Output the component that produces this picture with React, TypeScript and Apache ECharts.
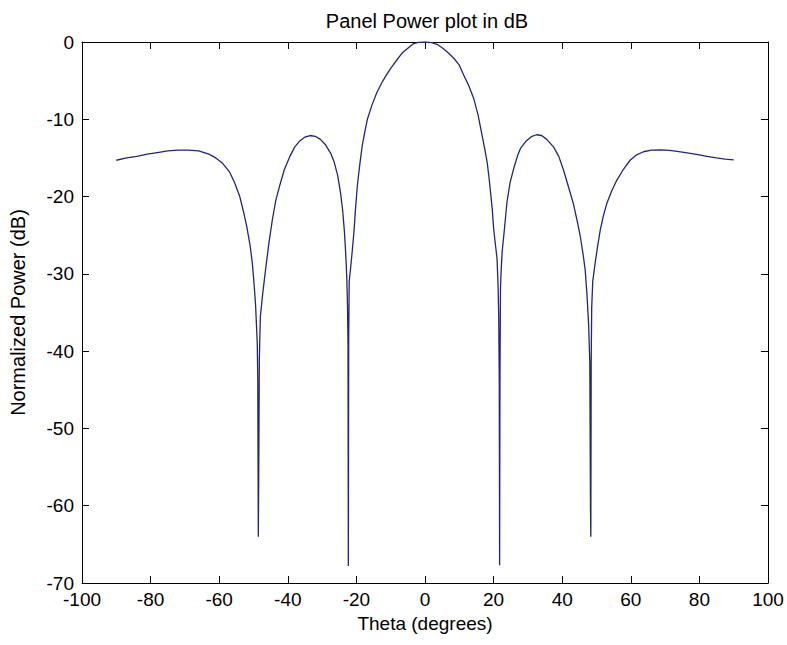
import React, { useEffect, useRef } from "react";
import * as echarts from "echarts";

const titleText = "Panel Power plot in dB";
const xAxisTitle = "Theta (degrees)";
const yAxisTitle = "Normalized Power (dB)";

const thetaDeg: number[] = [
  -90, -87, -84, -81, -78, -75, -72, -69, -66, -63, -61, -59, -57, -55.5, -54, -53, -52, -51, -50.3, -49.8,
  -49.4, -49.1, -48.9, -48.75, -48.6, -48.5, -48.3, -48.0, -47.3, -46.5, -45.5, -44.5, -43.5, -42.5, -41, -39.5,
  -38, -36.5, -35, -33.5, -32, -30.5, -29, -27.5, -26.5, -25.5, -24.6, -24, -23.5, -23.1, -22.8, -22.6,
  -22.45, -22.35, -22.25, -22.1, -21.7, -21.2, -20.7, -20.2, -19.7, -19, -18.3, -17.5, -16.8, -15.5, -14,
  -12.5, -11, -10, -8, -6.5, -5, -3.5, -2, 0,
  2, 3.5, 5, 6.5, 8.4, 10, 11.3, 12.8, 14.2, 15.5, 16.6, 17.4, 18.1, 18.6, 19.1, 19.6, 20.0, 20.5, 21.0, 21.3,
  21.5, 21.65, 21.75, 21.85, 22.0, 22.2, 22.5, 23.2, 23.9, 24.8, 25.9, 27, 27.8, 29.5, 31, 32.5, 34, 35.5,
  37.5, 39, 40.4, 41.8, 43.3, 44.4, 45.3, 46.1, 46.7, 47.2, 47.7, 48.05, 48.25, 48.35, 48.45, 48.6, 48.9,
  49.6, 50.3, 51.1, 52, 53, 54.4, 55.9, 57.8, 59.8, 61.7, 63.7, 66, 68.6, 70.5, 72.4, 75, 77.3, 80, 82.2,
  85, 87.5, 90,
];

const powerDb: number[] = [
  -15.3, -15.0, -14.8, -14.5, -14.3, -14.1, -14.0, -14.0, -14.1, -14.5, -15.0, -15.7, -16.8, -18.2, -20.0,
  -21.8, -23.8, -26.3, -28.8, -31.5, -34.0, -37.0, -39.0, -44.0, -64.0, -57.7, -41.0, -35.5, -32.5, -29.5,
  -26.0, -23.0, -20.5, -18.8, -16.5, -14.9, -13.6, -12.8, -12.3, -12.1, -12.2, -12.6, -13.3, -14.4, -15.5,
  -17.2, -19.6, -21.8, -24.5, -27.5, -30.5, -34.0, -39.0, -67.8, -38.5, -31.0, -29.3, -27.0, -24.5, -21.2,
  -18.5, -15.8, -13.4, -11.5, -10.0, -8.2, -6.5, -5.2, -4.1, -3.4, -2.2, -1.35, -0.8, -0.25, -0.06, 0,
  -0.08, -0.3, -0.75, -1.3, -2.1, -3.0, -4.3, -5.7, -7.3, -9.5, -12.0, -13.8, -15.5, -17.3, -19.4, -21.6,
  -24.1, -26.1, -28.0, -31.5, -35.7, -44.0, -67.7, -44.0, -32.0, -29.5, -27.1, -24.0, -20.7, -18.2, -16.3,
  -14.7, -13.8, -12.8, -12.25, -12.0, -12.1, -12.6, -13.6, -14.8, -16.6, -18.7, -21.0, -23.2, -25.2, -27.5,
  -29.5, -32.5, -36.5, -41.5, -60.5, -64.0, -41.5, -34.4, -31.0, -28.6, -26.5, -24.3, -22.5, -20.9, -19.3,
  -17.9, -16.5, -15.3, -14.6, -14.2, -14.0, -13.95, -14.0, -14.1, -14.25, -14.4, -14.6, -14.8, -15.0,
  -15.15, -15.25,
];

const xTicks = { min: -100, max: 100, interval: 20 };
const yTicks = { min: -70, max: 0, interval: 10 };

export default function App() {
  const ref = useRef<HTMLDivElement>(null);
  useEffect(() => {
    if (!ref.current) return;
    const chart = echarts.init(ref.current, null, { renderer: "svg" });
    const font = "Liberation Sans, Arial, Helvetica, sans-serif";
    const axisCommon = {
      type: "value" as const,
      splitLine: { show: false },
      axisLine: { show: true, onZero: false, lineStyle: { color: "#000", width: 1 } },
      axisTick: { show: true, inside: true, length: 7, lineStyle: { color: "#000", width: 1 } },
    };
    chart.setOption({
      animation: false,
      backgroundColor: "#fff",
      title: {
        text: titleText,
        left: 422,
        top: 6,
        textAlign: "center",
        textStyle: { fontFamily: font, fontSize: 20, fontWeight: "normal", color: "#000" },
      },
      grid: { left: 81, right: 19, top: 42, bottom: 62, containLabel: false },
      xAxis: [
        {
          ...axisCommon,
          position: "bottom",
          min: xTicks.min,
          max: xTicks.max,
          interval: xTicks.interval,
          name: xAxisTitle,
          nameLocation: "middle",
          nameGap: 31,
          nameTextStyle: { fontFamily: font, fontSize: 19, color: "#000" },
          axisLabel: { fontFamily: font, fontSize: 19, color: "#000", margin: 8, lineHeight: 16 },
        },
        {
          ...axisCommon,
          position: "top",
          min: xTicks.min,
          max: xTicks.max,
          interval: xTicks.interval,
          axisLabel: { show: false },
        },
      ],
      yAxis: [
        {
          ...axisCommon,
          position: "left",
          min: yTicks.min,
          max: yTicks.max,
          interval: yTicks.interval,
          name: yAxisTitle,
          nameLocation: "middle",
          nameGap: 54,
          nameTextStyle: { fontFamily: font, fontSize: 20, color: "#000" },
          axisLabel: { fontFamily: font, fontSize: 19, color: "#000", margin: 8, lineHeight: 15 },
        },
        {
          ...axisCommon,
          position: "right",
          min: yTicks.min,
          max: yTicks.max,
          interval: yTicks.interval,
          axisLabel: { show: false },
        },
      ],
      series: [
        {
          type: "line",
          xAxisIndex: 0,
          yAxisIndex: 0,
          data: thetaDeg.map((t, i) => [t, powerDb[i]]),
          showSymbol: false,
          symbol: "none",
          lineStyle: { color: "#24247f", width: 1.3 },
        },
      ],
    });
    return () => chart.dispose();
  }, []);
  return (
    <div
      ref={ref}
      style={{ position: "absolute", left: 0, top: 0, width: 787, height: 645, background: "#fff" }}
    />
  );
}
